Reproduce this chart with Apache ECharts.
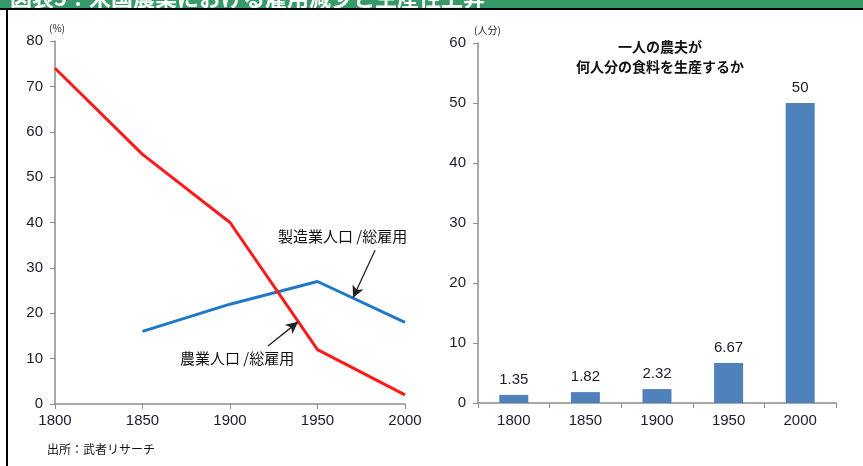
<!DOCTYPE html>
<html>
<head>
<meta charset="utf-8">
<script src="https://cdn.jsdelivr.net/npm/echarts@6/dist/echarts.min.js"></script>
<style>
  html, body { margin: 0; padding: 0; background: #fff; }
  #chart { width: 863px; height: 466px; }
</style>
</head>
<body>
<div id="chart"></div>
<script>
// Share of employment: years and percentages
const years = [1800, 1850, 1900, 1950, 2000];
const farmShare = [74, 55, 40, 12, 2];          // 農業人口 / 総雇用
const mfgShare = [null, 16, 22, 27, 18];        // 製造業人口 / 総雇用

// People fed by one farmer
const barYears = ['1800', '1850', '1900', '1950', '2000'];
const peopleFed = [1.35, 1.82, 2.32, 6.67, 50];

const leftTicks = { min: 0, max: 80, interval: 10 };
const rightTicks = { min: 0, max: 60, interval: 10 };

const numFont = '"Liberation Sans", Arial, sans-serif';
const jpFont = '"Noto Sans CJK JP", "Noto Sans", sans-serif';
const axisGrey = '#8c8c8c';
const labelColor = '#1b1b2b';

const chart = echarts.init(document.getElementById('chart'), null, { renderer: 'canvas' });

const option = {
  animation: false,
  backgroundColor: '#fff',
  grid: [
    { left: 55, top: 41, width: 350, height: 363 },
    { left: 478, top: 43, width: 358, height: 360 }
  ],
  xAxis: [
    {
      gridIndex: 0, type: 'value', min: 1800, max: 2000, interval: 50,
      axisLine: { show: true, lineStyle: { color: axisGrey, width: 1.5 } },
      axisTick: { show: true, length: 5, lineStyle: { color: axisGrey } },
      axisLabel: { color: labelColor, fontFamily: numFont, fontSize: 15, margin: 9, formatter: v => String(v) },
      splitLine: { show: false }
    },
    {
      gridIndex: 1, type: 'category', data: barYears,
      axisLine: { lineStyle: { color: axisGrey, width: 1.5 } },
      axisTick: { show: true, length: 5, alignWithLabel: false, lineStyle: { color: axisGrey } },
      axisLabel: { color: labelColor, fontFamily: numFont, fontSize: 15, margin: 10 }
    }
  ],
  yAxis: [
    {
      gridIndex: 0, type: 'value', min: leftTicks.min, max: leftTicks.max, interval: leftTicks.interval,
      axisLine: { show: true, lineStyle: { color: axisGrey, width: 1.5 } },
      axisTick: { show: true, length: 5, lineStyle: { color: axisGrey } },
      axisLabel: { color: labelColor, fontFamily: numFont, fontSize: 15, margin: 12 },
      splitLine: { show: false }
    },
    {
      gridIndex: 1, type: 'value', min: rightTicks.min, max: rightTicks.max, interval: rightTicks.interval,
      axisLine: { show: true, lineStyle: { color: axisGrey, width: 1.5 } },
      axisTick: { show: true, length: 5, lineStyle: { color: axisGrey } },
      axisLabel: { color: labelColor, fontFamily: numFont, fontSize: 15, margin: 12 },
      splitLine: { show: false }
    }
  ],
  series: [
    {
      name: '農業人口 / 総雇用', type: 'line', xAxisIndex: 0, yAxisIndex: 0,
      data: years.map((y, i) => [y, farmShare[i]]),
      showSymbol: false, lineStyle: { color: '#ff1a1a', width: 3 }, z: 3
    },
    {
      name: '製造業人口 / 総雇用', type: 'line', xAxisIndex: 0, yAxisIndex: 0,
      data: years.map((y, i) => [y, mfgShare[i]]).filter(p => p[1] !== null),
      showSymbol: false, lineStyle: { color: '#1f78c8', width: 3 }, z: 2,
      markLine: {
        silent: true, symbol: ['none', 'arrow'], symbolSize: [9, 12],
        lineStyle: { color: '#222', width: 1.3, type: 'solid' },
        label: { show: false },
        data: [
          [{ coord: [1982.9, 33.9] }, { coord: [1970.3, 23.4] }],
          [{ coord: [1921.7, 12.8] }, { coord: [1938.9, 18.1] }]
        ]
      }
    },
    {
      name: '一人の農夫が何人分の食料を生産するか', type: 'bar', xAxisIndex: 1, yAxisIndex: 1,
      data: peopleFed, barWidth: 29,
      itemStyle: { color: '#4f81bd' },
      label: {
        show: true, position: 'top', distance: 8,
        color: labelColor, fontFamily: numFont, fontSize: 15
      }
    }
  ],
  graphic: [
    // header band
    { type: 'rect', shape: { x: 0, y: 0, width: 863, height: 8 }, style: { fill: '#359a68' }, silent: true },
    { type: 'text', x: 10, y: 9, style: { text: '図表5：米国農業における雇用減少と生産性上昇', fill: '#fff', font: 'bold 22px ' + jpFont, textVerticalAlign: 'bottom' }, silent: true },
    { type: 'rect', shape: { x: 0, y: 8, width: 863, height: 2 }, style: { fill: '#000' }, silent: true, z: 10 },
    { type: 'rect', shape: { x: 6, y: 8, width: 2, height: 458 }, style: { fill: '#000' }, silent: true, z: 10 },
    // unit labels
    { type: 'text', left: 49, top: 23, style: { text: '(%)', fill: '#222', font: '10px ' + jpFont } },
    { type: 'text', left: 474, top: 25, style: { text: '(人分)', fill: '#222', font: '10px ' + jpFont } },
    // annotations
    { type: 'text', left: 278, top: 229, style: { text: '製造業人口 /総雇用', fill: '#111', font: '15px ' + jpFont } },
    { type: 'text', left: 180, top: 351, style: { text: '農業人口 /総雇用', fill: '#111', font: '15px ' + jpFont } },
    // bar chart title
    { type: 'text', x: 660, y: 37, style: { text: '一人の農夫が\n何人分の食料を生産するか', fill: '#111', font: 'bold 14px ' + jpFont, textAlign: 'center', lineHeight: 20 } },
    // source
    { type: 'text', left: 47, top: 443, style: { text: '出所：武者リサーチ', fill: '#111', font: '12px ' + jpFont } }
  ]
};

chart.setOption(option);
</script>
</body>
</html>
